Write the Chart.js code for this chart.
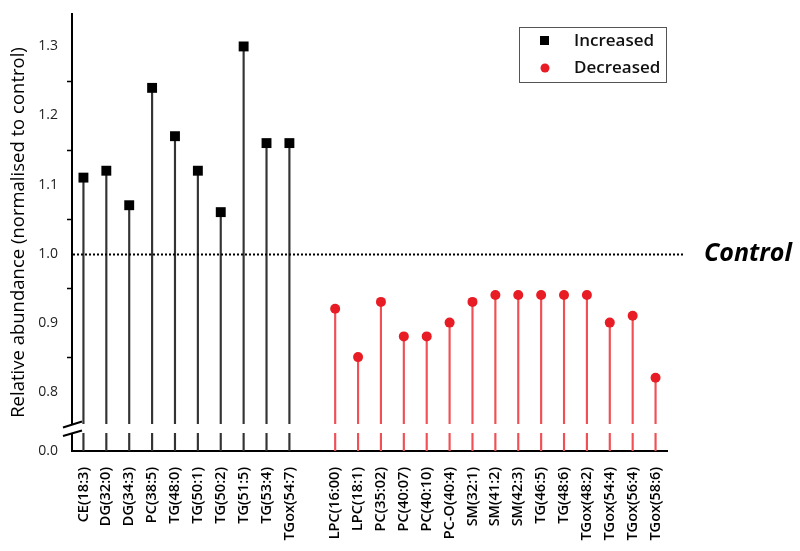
<!DOCTYPE html>
<html>
<head>
<meta charset="utf-8">
<script src="https://cdn.jsdelivr.net/npm/chart.js@4/dist/chart.umd.min.js"></script>
<style>
  html, body { margin: 0; padding: 0; background: #fff; }
  #wrap { width: 800px; height: 551px; }
</style>
</head>
<body>
<div id="wrap"><canvas id="lipidChart"></canvas></div>
<script>
const increasedLabels = ['CE(18:3)', 'DG(32:0)', 'DG(34:3)', 'PC(38:5)', 'TG(48:0)', 'TG(50:1)', 'TG(50:2)', 'TG(51:5)', 'TG(53:4)', 'TGox(54:7)']
const increasedValues = [1.11, 1.12, 1.07, 1.24, 1.17, 1.12, 1.06, 1.30, 1.16, 1.16]
const decreasedLabels = ['LPC(16:00)', 'LPC(18:1)', 'PC(35:02)', 'PC(40:07)', 'PC(40:10)', 'PC-O(40:4)', 'SM(32:1)', 'SM(41:2)', 'SM(42:3)', 'TG(46:5)', 'TG(48:6)', 'TGox(48:2)', 'TGox(54:4)', 'TGox(56:4)', 'TGox(58:6)']
const decreasedValues = [0.92, 0.85, 0.93, 0.88, 0.88, 0.90, 0.93, 0.94, 0.94, 0.94, 0.94, 0.94, 0.90, 0.91, 0.82]
const majorTicks = [0.8, 0.9, 1.0, 1.1, 1.2, 1.3]
const minorTicks = [0.85, 0.95, 1.05, 1.15, 1.25]
const controlValue = 1.0

// broken axis: the bottom of the scale stands for 0.0
const axisMin = 0.714
const axisMax = 1.347

const labels = [...increasedLabels, '', ...decreasedLabels]
const gap = [null]
const incPad = increasedValues.map(() => null)
const decPad = decreasedValues.map(() => null)

const incData = [...increasedValues, ...gap, ...decPad]
const decData = [...incPad, ...gap, ...decreasedValues]

const FONT = "'Open Sans', 'Noto Sans', sans-serif"
const RED = 'rgb(232, 28, 36)'
const RED_STEM = 'rgb(240, 80, 84)'

const brokenAxis = {
  id: 'brokenAxis',
  afterDatasetsDraw(chart) {
    const { ctx, chartArea, scales: { y } } = chart
    const ax = chartArea.left
    ctx.save()
    // gap across stems and axis
    ctx.fillStyle = '#fff'
    ctx.fillRect(ax - 1, 424, chartArea.right - ax + 2, 9)
    // slashes
    ctx.strokeStyle = '#000'
    ctx.lineWidth = 2
    ctx.beginPath()
    ctx.moveTo(ax - 9, 427.5); ctx.lineTo(ax + 10, 421.5)
    ctx.moveTo(ax - 9, 436); ctx.lineTo(ax + 10, 430.5)
    ctx.stroke()
    // minor ticks
    ctx.lineWidth = 1.5
    ctx.beginPath()
    minorTicks.forEach(v => {
      const py = Math.round(y.getPixelForValue(v)) + 0.5
      ctx.moveTo(ax - 5, py); ctx.lineTo(ax, py)
    })
    ctx.stroke()
    // control line
    const cy = Math.round(y.getPixelForValue(controlValue)) + 0.5
    ctx.setLineDash([2, 2])
    ctx.lineWidth = 2
    ctx.beginPath()
    ctx.moveTo(ax + 1, cy); ctx.lineTo(683, cy)
    ctx.stroke()
    ctx.setLineDash([])
    ctx.fillStyle = '#000'
    ctx.font = "italic bold 25px " + FONT
    ctx.textBaseline = 'middle'
    ctx.textAlign = 'left'
    ctx.fillText('Control', 704, cy - 1)
    // legend
    ctx.strokeStyle = '#555'
    ctx.lineWidth = 1
    ctx.strokeRect(519.5, 27.5, 147, 55)
    ctx.fillStyle = '#000'
    ctx.fillRect(540, 36, 9, 9)
    ctx.fillStyle = RED
    ctx.beginPath()
    ctx.arc(545, 68, 4.5, 0, Math.PI * 2)
    ctx.fill()
    ctx.fillStyle = '#111'
    ctx.font = "600 17px " + FONT
    ctx.fillText('Increased', 574, 41)
    ctx.fillText('Decreased', 574, 68)
    ctx.restore()
  }
}

new Chart(document.getElementById('lipidChart'), {
  type: 'bar',
  data: {
    labels: labels,
    datasets: [
      {
        type: 'line', label: 'Increased', data: incData,
        showLine: false, pointStyle: 'rect', pointRadius: 7, pointHoverRadius: 7,
        backgroundColor: '#000', borderColor: '#000', borderWidth: 0, order: 0
      },
      {
        type: 'line', label: 'Decreased', data: decData,
        showLine: false, pointStyle: 'circle', pointRadius: 5, pointHoverRadius: 5,
        backgroundColor: RED, borderColor: RED, borderWidth: 0, order: 0
      },
      {
        label: 'inc stems', data: incData.map(v => v === null ? null : [axisMin, v]),
        backgroundColor: '#333', barThickness: 1.5, grouped: false, order: 1
      },
      {
        label: 'dec stems', data: decData.map(v => v === null ? null : [axisMin, v]),
        backgroundColor: RED_STEM, barThickness: 1.5, grouped: false, order: 1
      }
    ]
  },
  options: {
    responsive: true,
    maintainAspectRatio: false,
    animation: false,
    layout: { padding: { top: 14, right: 133, left: 0, bottom: 0 } },
    plugins: { legend: { display: false }, tooltip: { enabled: false } },
    scales: {
      x: {
        offset: true,
        grid: { display: false, drawTicks: true, tickLength: 8, tickColor: '#000', tickWidth: 2, offset: false },
        border: { display: true, color: '#000', width: 2 },
        ticks: {
          color: '#000', autoSkip: false, maxRotation: 90, minRotation: 90, padding: 8,
          font: { family: FONT, size: 14.5, weight: '600' }
        },
        afterFit(s) { s.height = 100 }
      },
      y: {
        min: axisMin, max: axisMax,
        afterBuildTicks(s) { s.ticks = [axisMin, ...majorTicks].map(v => ({ value: v })) },
        grid: { display: false, drawTicks: true, tickLength: 9, tickColor: '#000', tickWidth: 1.5 },
        border: { display: true, color: '#000', width: 2 },
        ticks: {
          color: '#222', padding: 5,
          font: { family: FONT, size: 14 },
          callback: v => v === axisMin ? '0.0' : v.toFixed(1)
        },
        title: {
          display: true, text: 'Relative abundance (normalised to control)',
          color: '#000', font: { family: FONT, size: 18.5 }, padding: { top: 8, bottom: 2 }
        },
        afterFit(s) { s.width = 72 }
      }
    }
  },
  plugins: [brokenAxis]
})
</script>
</body>
</html>
